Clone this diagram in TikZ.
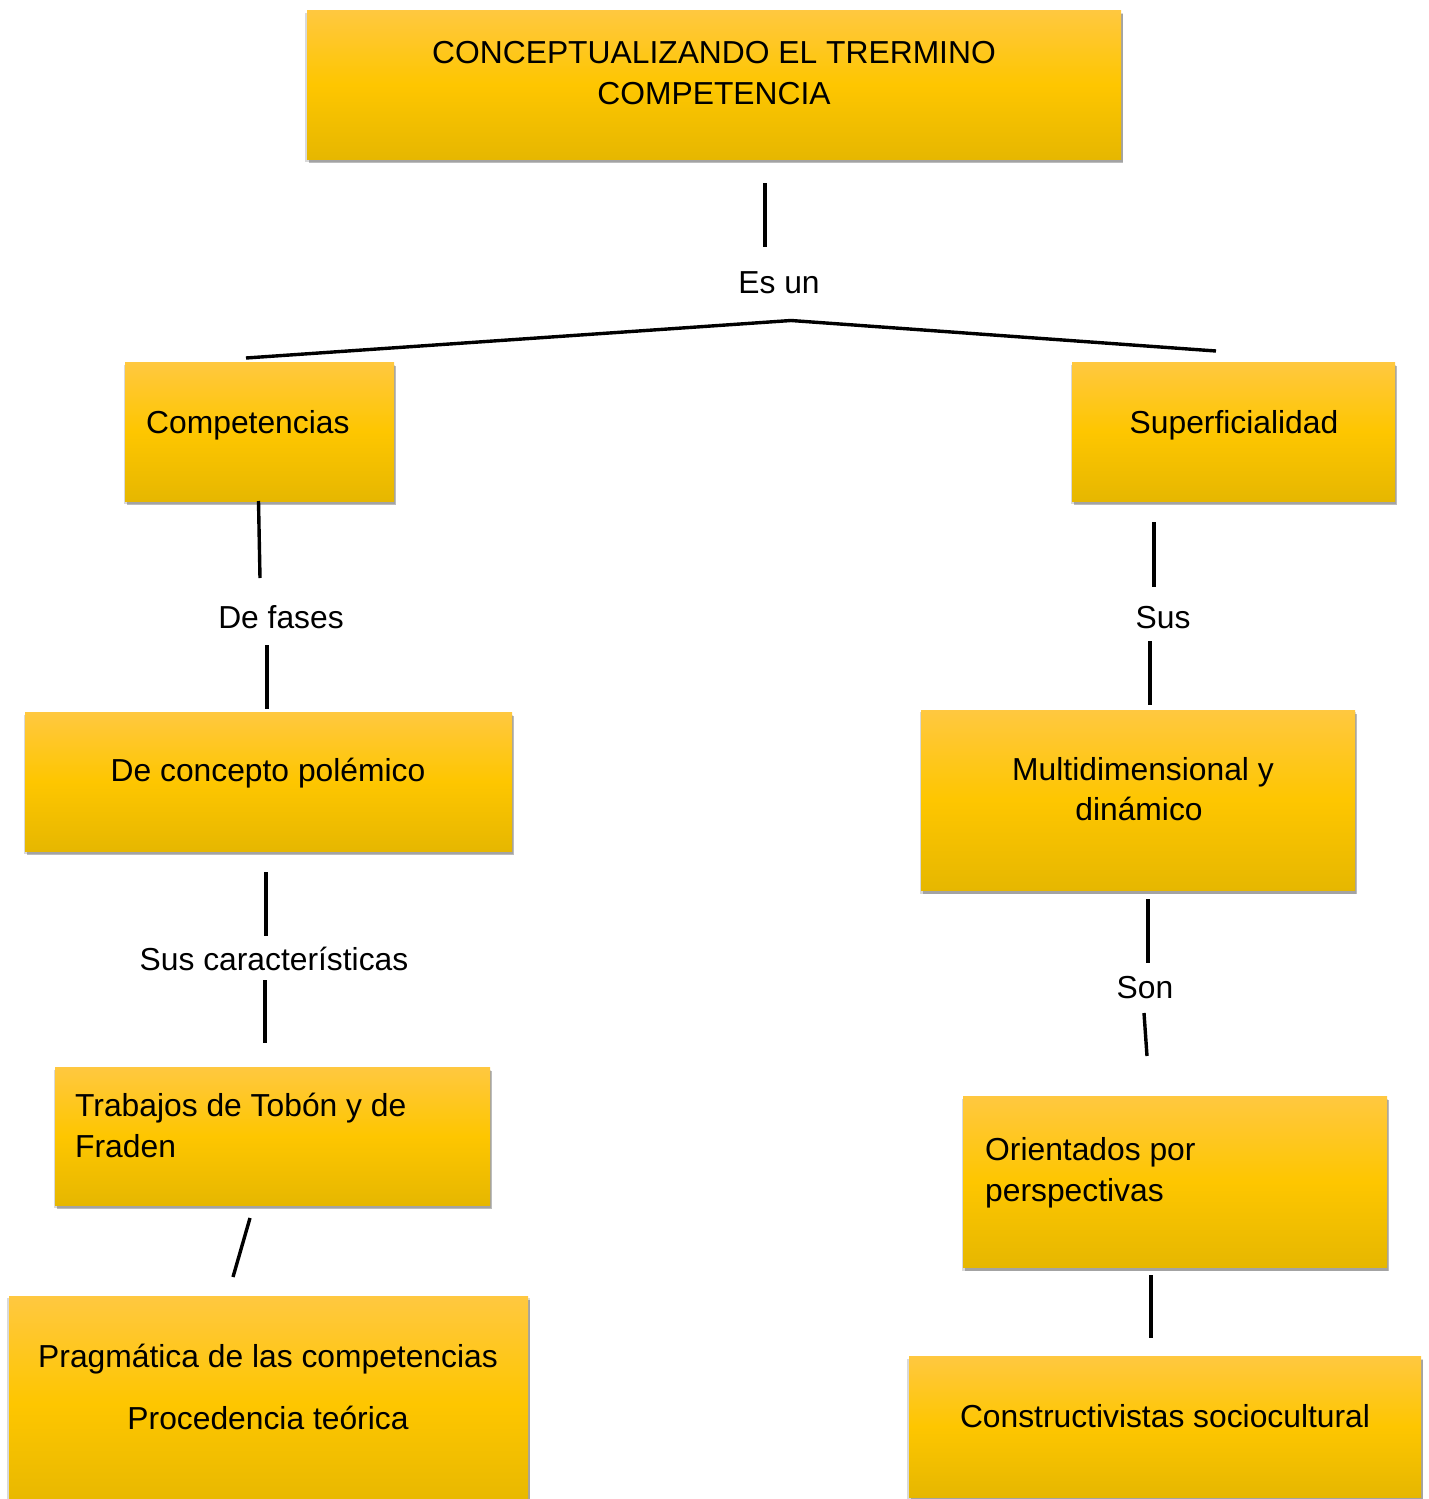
\documentclass[tikz,border=0pt]{standalone}
\usepackage{fontspec}
\setmainfont{Liberation Sans}
\usetikzlibrary{shadows}
\definecolor{boxtop}{RGB}{255,200,64}
\definecolor{boxmid}{RGB}{254,198,0}
\definecolor{boxbot}{RGB}{230,183,0}
\tikzset{
  box/.style={rectangle, draw=none, inner sep=0pt, top color=boxtop, bottom color=boxbot, middle color=boxmid,
    general shadow={fill=black, opacity=0.15, shadow xshift=0pt, shadow yshift=-3pt, shadow scale=1.006},
    drop shadow={opacity=0.35, shadow xshift=1.5pt, shadow yshift=-4pt, fill=black!75}},
  txt/.style={anchor=base, inner sep=0pt, font=\fontsize{31.8}{41}\selectfont},
  txtl/.style={txt, anchor=base west},
  conn/.style={draw=black, line width=3.4pt}
}
\begin{document}
\begin{tikzpicture}[x=1pt,y=-1pt]
\useasboundingbox (0,0) rectangle (1429,1499);
% boxes
\node[box, minimum width=814pt, minimum height=149pt] (title) at (714,84.5) {};
\node[box, minimum width=269pt, minimum height=139pt] (comp) at (259.5,431.5) {};
\node[box, minimum width=323pt, minimum height=139pt] (sup) at (1233.5,431.5) {};
\node[box, minimum width=487pt, minimum height=139pt] (pol) at (268.5,781.5) {};
\node[box, minimum width=434pt, minimum height=180pt] (mul) at (1138,800) {};
\node[box, minimum width=435pt, minimum height=138pt] (trab) at (272.5,1136) {};
\node[box, minimum width=424pt, minimum height=171pt] (ori) at (1175,1181.5) {};
\node[box, minimum width=519pt, minimum height=215pt] (prag) at (268.5,1403.5) {};
\node[box, minimum width=512pt, minimum height=141pt] (cons) at (1165,1426.5) {};
% texts
\node[txt] (t1) at (714,63) {CONCEPTUALIZANDO EL TRERMINO};
\node[txt] (t2) at (714,104) {COMPETENCIA};
\node[txtl] (tcomp) at (146,433) {Competencias};
\node[txt] (tsup) at (1234,433) {Superficialidad};
\node[txt] (tpol) at (268,781) {De concepto polémico};
\node[txt] (tmul1) at (1143,780) {Multidimensional y};
\node[txt] (tmul2) at (1139,820) {dinámico};
\node[txtl] (ttrab1) at (75,1116) {Trabajos de Tobón y de};
\node[txtl] (ttrab2) at (75,1157) {Fraden};
\node[txtl] (tori1) at (985,1160) {Orientados por};
\node[txtl] (tori2) at (985,1201) {perspectivas};
\node[txt] (tprag1) at (268,1367) {Pragmática de las competencias};
\node[txt] (tprag2) at (268,1429) {Procedencia teórica};
\node[txt] (tcons) at (1165,1427) {Constructivistas sociocultural};
% link labels
\node[txt] (lesun) at (779,293) {Es un};
\node[txt] (lfases) at (281,628) {De fases};
\node[txt] (lcar) at (274,970) {Sus características};
\node[txt] (lsus) at (1163,628) {Sus};
\node[txt] (lson) at (1145,998) {Son};
% connector end points
\coordinate (a1) at (765,183); \coordinate (a2) at (765,247);
\coordinate (hub) at (791,320.5);
\coordinate (hl) at (246,358); \coordinate (hr) at (1216,351);
\coordinate (b1) at (258.5,501); \coordinate (b2) at (260,578);
\coordinate (b3) at (267,645); \coordinate (b4) at (267,709);
\coordinate (c1) at (266,872); \coordinate (c2) at (266,936);
\coordinate (c3) at (265,980); \coordinate (c4) at (265,1043);
\coordinate (d1) at (250,1218); \coordinate (d2) at (233,1277);
\coordinate (e1) at (1154,522); \coordinate (e2) at (1154,587);
\coordinate (e3) at (1150,641); \coordinate (e4) at (1150,705);
\coordinate (f1) at (1148,899); \coordinate (f2) at (1148,963);
\coordinate (f3) at (1144,1013); \coordinate (f4) at (1147,1056);
\coordinate (g1) at (1151,1275); \coordinate (g2) at (1151,1338);
% connectors
\draw[conn] (a1) -- (a2);
\draw[conn] (hl) -- (hub) -- (hr);
\draw[conn] (b1) -- (b2);
\draw[conn] (b3) -- (b4);
\draw[conn] (c1) -- (c2);
\draw[conn] (c3) -- (c4);
\draw[conn] (d1) -- (d2);
\draw[conn] (e1) -- (e2);
\draw[conn] (e3) -- (e4);
\draw[conn] (f1) -- (f2);
\draw[conn] (f3) -- (f4);
\draw[conn] (g1) -- (g2);
\end{tikzpicture}
\end{document}
